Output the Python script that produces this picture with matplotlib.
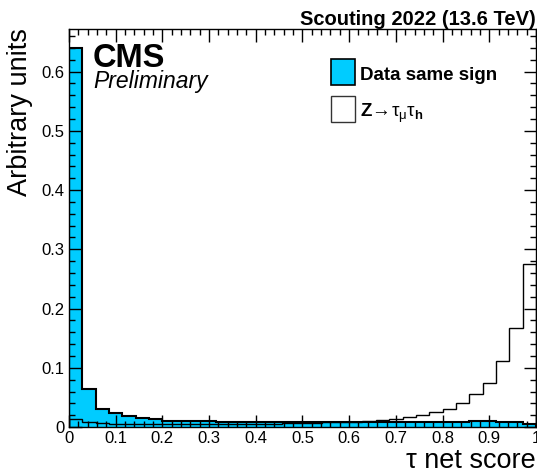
import numpy as np
import matplotlib
matplotlib.use('Agg')
import matplotlib.pyplot as plt
from matplotlib.patches import Rectangle
from matplotlib.ticker import MultipleLocator, FormatStrFormatter

plt.rcParams['font.family'] = ['Liberation Sans', 'DejaVu Sans']
plt.rcParams['mathtext.fontset'] = 'custom'
plt.rcParams['mathtext.rm'] = 'Liberation Sans'
plt.rcParams['mathtext.it'] = 'Liberation Sans'
plt.rcParams['mathtext.bf'] = 'Liberation Sans:bold'

# 35 bins between 0 and 1
bin_edges = np.linspace(0, 1, 36)

data_same_sign = [0.640, 0.064, 0.031, 0.024, 0.019, 0.016, 0.014, 0.011, 0.011,
                  0.010, 0.010, 0.009, 0.009, 0.008, 0.008, 0.008, 0.008, 0.008,
                  0.008, 0.008, 0.008, 0.008, 0.008, 0.008, 0.008, 0.008, 0.008,
                  0.008, 0.009, 0.009, 0.010, 0.010, 0.009, 0.008, 0.006]
z_tautau = [0.013, 0.009, 0.007, 0.006, 0.006, 0.006, 0.006, 0.006, 0.006,
            0.006, 0.006, 0.006, 0.006, 0.006, 0.006, 0.006, 0.007, 0.007,
            0.007, 0.008, 0.008, 0.009, 0.010, 0.012, 0.014, 0.017, 0.020,
            0.025, 0.031, 0.040, 0.055, 0.075, 0.111, 0.167, 0.275]

cyan = '#00ccff'

fig = plt.figure(figsize=(5.37, 4.74), dpi=100)
ax = fig.add_axes([0.1285, 0.099, 0.8695, 0.84])

ax.stairs(data_same_sign, bin_edges, fill=True, color=cyan, zorder=1)
ax.stairs(data_same_sign, bin_edges, color='black', linewidth=1.5, zorder=2)
ax.stairs(z_tautau, bin_edges, color='black', linewidth=1.0, zorder=3)

ax.set_xlim(0, 1)
ax.set_ylim(0, 0.672)
ax.xaxis.set_major_locator(MultipleLocator(0.1))
ax.xaxis.set_minor_locator(MultipleLocator(0.02))
ax.yaxis.set_major_locator(MultipleLocator(0.1))
ax.yaxis.set_minor_locator(MultipleLocator(0.02))
ax.xaxis.set_major_formatter(FormatStrFormatter('%g'))
ax.yaxis.set_major_formatter(FormatStrFormatter('%g'))
ax.tick_params(which='both', direction='in', top=True, right=True, labelsize=12, pad=3)
ax.tick_params(which='major', length=9, width=1)
ax.tick_params(which='minor', length=4.5, width=1)
for s in ax.spines.values():
    s.set_linewidth(1)
ax.set_axisbelow(False)

fig.text(0.037, 0.94, 'Arbitrary units', rotation=90, ha='center', va='top', fontsize=19.5)
fig.text(0.998, 0.0127, '\u03c4 net score', ha='right', va='baseline', fontsize=19.5)

fig.text(0.173, 0.8586, 'CMS', ha='left', va='baseline', fontsize=23.5, fontweight='bold')
fig.text(0.174, 0.8143, 'Preliminary', ha='left', va='baseline', fontsize=16.5, style='italic')
fig.text(0.998, 0.947, 'Scouting 2022 (13.6 TeV)', ha='right', va='baseline', fontsize=14.5, fontweight='bold')

# legend
fig.patches.append(Rectangle((0.616, 0.8207), 0.0447, 0.0549, transform=fig.transFigure,
                             facecolor=cyan, edgecolor='black', linewidth=1.2))
fig.patches.append(Rectangle((0.616, 0.7426), 0.0447, 0.0549, transform=fig.transFigure,
                             facecolor='white', edgecolor='#333333', linewidth=1.0))
fig.text(0.670, 0.8312, 'Data same sign', ha='left', va='baseline', fontsize=13.5, fontweight='bold')
fig.text(0.670, 0.753, r'$\mathbf{Z}\!\rightarrow\!\tau_{\mu}\tau_{\mathbf{h}}$',
         ha='left', va='baseline', fontsize=13.5)

fig.savefig('out.png', dpi=100)
